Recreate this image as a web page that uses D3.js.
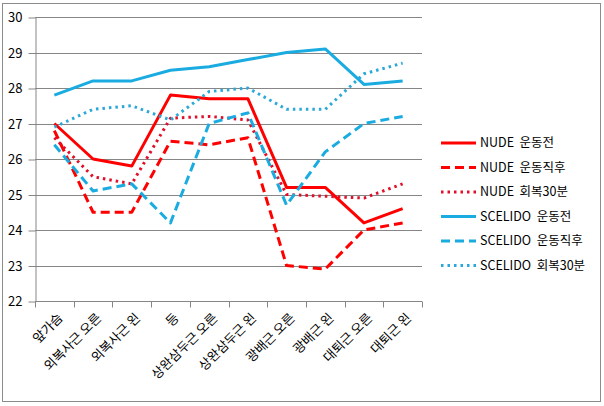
<!DOCTYPE html>
<html><head><meta charset="utf-8">
<script src="https://cdn.jsdelivr.net/npm/d3@7"></script>
<style>
body{margin:0;background:#fff;}
text{font-family:"Noto Sans CJK KR","Noto Sans",sans-serif;}
</style></head>
<body><svg id="c" width="604" height="406"></svg>
<script>
const categories = ["앞가슴","외복사근 오른","외복사근 왼","등","상완삼두근 오른","상완삼두근 왼","광배근 오른","광배근 왼","대퇴근 오른","대퇴근 왼"];
const seriesNames = ["NUDE\u00A0\u00A0운동전","NUDE\u00A0\u00A0운동직후","NUDE\u00A0\u00A0회복30분","SCELIDO\u00A0\u00A0운동전","SCELIDO\u00A0\u00A0운동직후","SCELIDO\u00A0\u00A0회복30분"];
const nudeBefore   = [27.0, 26.0, 25.8, 27.8, 27.7, 27.7, 25.2, 25.2, 24.2, 24.6];
const nudeAfter    = [26.8, 24.5, 24.5, 26.5, 26.4, 26.6, 23.0, 22.9, 24.0, 24.2];
const nudeRecov    = [26.6, 25.5, 25.3, 27.15, 27.2, 27.1, 25.0, 24.95, 24.9, 25.3];
const scBefore     = [27.8, 28.2, 28.2, 28.5, 28.6, 28.8, 29.0, 29.1, 28.1, 28.2];
const scAfter      = [26.4, 25.1, 25.3, 24.2, 27.0, 27.3, 24.7, 26.2, 27.0, 27.2];
const scRecov      = [26.9, 27.4, 27.5, 27.1, 27.9, 28.0, 27.4, 27.4, 28.4, 28.7];
const yTicks = [22,23,24,25,26,27,28,29,30];

const seriesValues = [nudeBefore, nudeAfter, nudeRecov, scBefore, scAfter, scRecov];
const colors = ["#FF0000","#FF0000","#E0102A","#1AACE0","#1AACE0","#2AA8D8"];
const dashes = [null, "9,5", "2.5,4", null, "9,5", "2.5,4"];

const svg = d3.select("#c");
const L = 35, R = 422, T = 17, B = 301;
const x = d3.scaleBand().domain(categories).range([L, R]);
const y = d3.scaleLinear().domain([22, 30]).range([B, T]);

svg.append("rect").attr("x",2.5).attr("y",3.5).attr("width",598).attr("height",398)
  .attr("fill","none").attr("stroke","#8c8c8c").attr("stroke-width",1);

svg.append("g").selectAll("line").data(yTicks.filter(d=>d>22)).join("line")
  .attr("x1",L).attr("x2",R).attr("y1",d=>Math.round(y(d))+0.5).attr("y2",d=>Math.round(y(d))+0.5)
  .attr("stroke","#868686").attr("stroke-width",1);

const yAxis = d3.axisLeft(y).tickValues(yTicks).tickSize(7).tickPadding(6).tickSizeOuter(0);
const gy = svg.append("g").attr("transform",`translate(${L+0.5},0.5)`).call(yAxis);
gy.select(".domain").attr("stroke","#868686");
gy.selectAll(".tick line").attr("stroke","#868686");
gy.selectAll("text").attr("font-size",13).attr("fill","#000");

const gx = svg.append("g").attr("transform",`translate(0,${B+0.5})`);
gx.append("line").attr("x1",L).attr("x2",R).attr("stroke","#868686");
const bounds = categories.map(c=>x(c)).concat([R]);
gx.selectAll("line.tk").data(bounds).join("line").attr("class","tk")
  .attr("x1",d=>Math.round(d)+0.5).attr("x2",d=>Math.round(d)+0.5).attr("y1",0).attr("y2",6)
  .attr("stroke","#868686");
gx.selectAll("text").data(categories).join("text")
  .attr("transform",d=>`translate(${x(d)+x.bandwidth()/2+6},${14}) rotate(-45)`)
  .attr("text-anchor","end").attr("dy","0.35em").attr("font-size",13).attr("fill","#000")
  .text(d=>d);

const line = d3.line().x((d,i)=>x(categories[i])+x.bandwidth()/2).y(d=>y(d));
seriesValues.forEach((vals,k)=>{
  svg.append("path").datum(vals).attr("d",line).attr("fill","none")
    .attr("stroke",colors[k]).attr("stroke-width",3)
    .attr("stroke-dasharray",dashes[k]).attr("stroke-linejoin","round");
});

const lg = svg.append("g");
seriesNames.forEach((n,k)=>{
  const yy = 143 + k*24.5;
  lg.append("line").attr("x1",441).attr("x2",476).attr("y1",yy).attr("y2",yy)
    .attr("stroke",colors[k]).attr("stroke-width",3).attr("stroke-dasharray",dashes[k]);
  lg.append("text").attr("x",480).attr("y",yy).attr("dy","0.35em").attr("font-size",12.5)
    .attr("fill","#000").text(n);
});
</script></body></html>
